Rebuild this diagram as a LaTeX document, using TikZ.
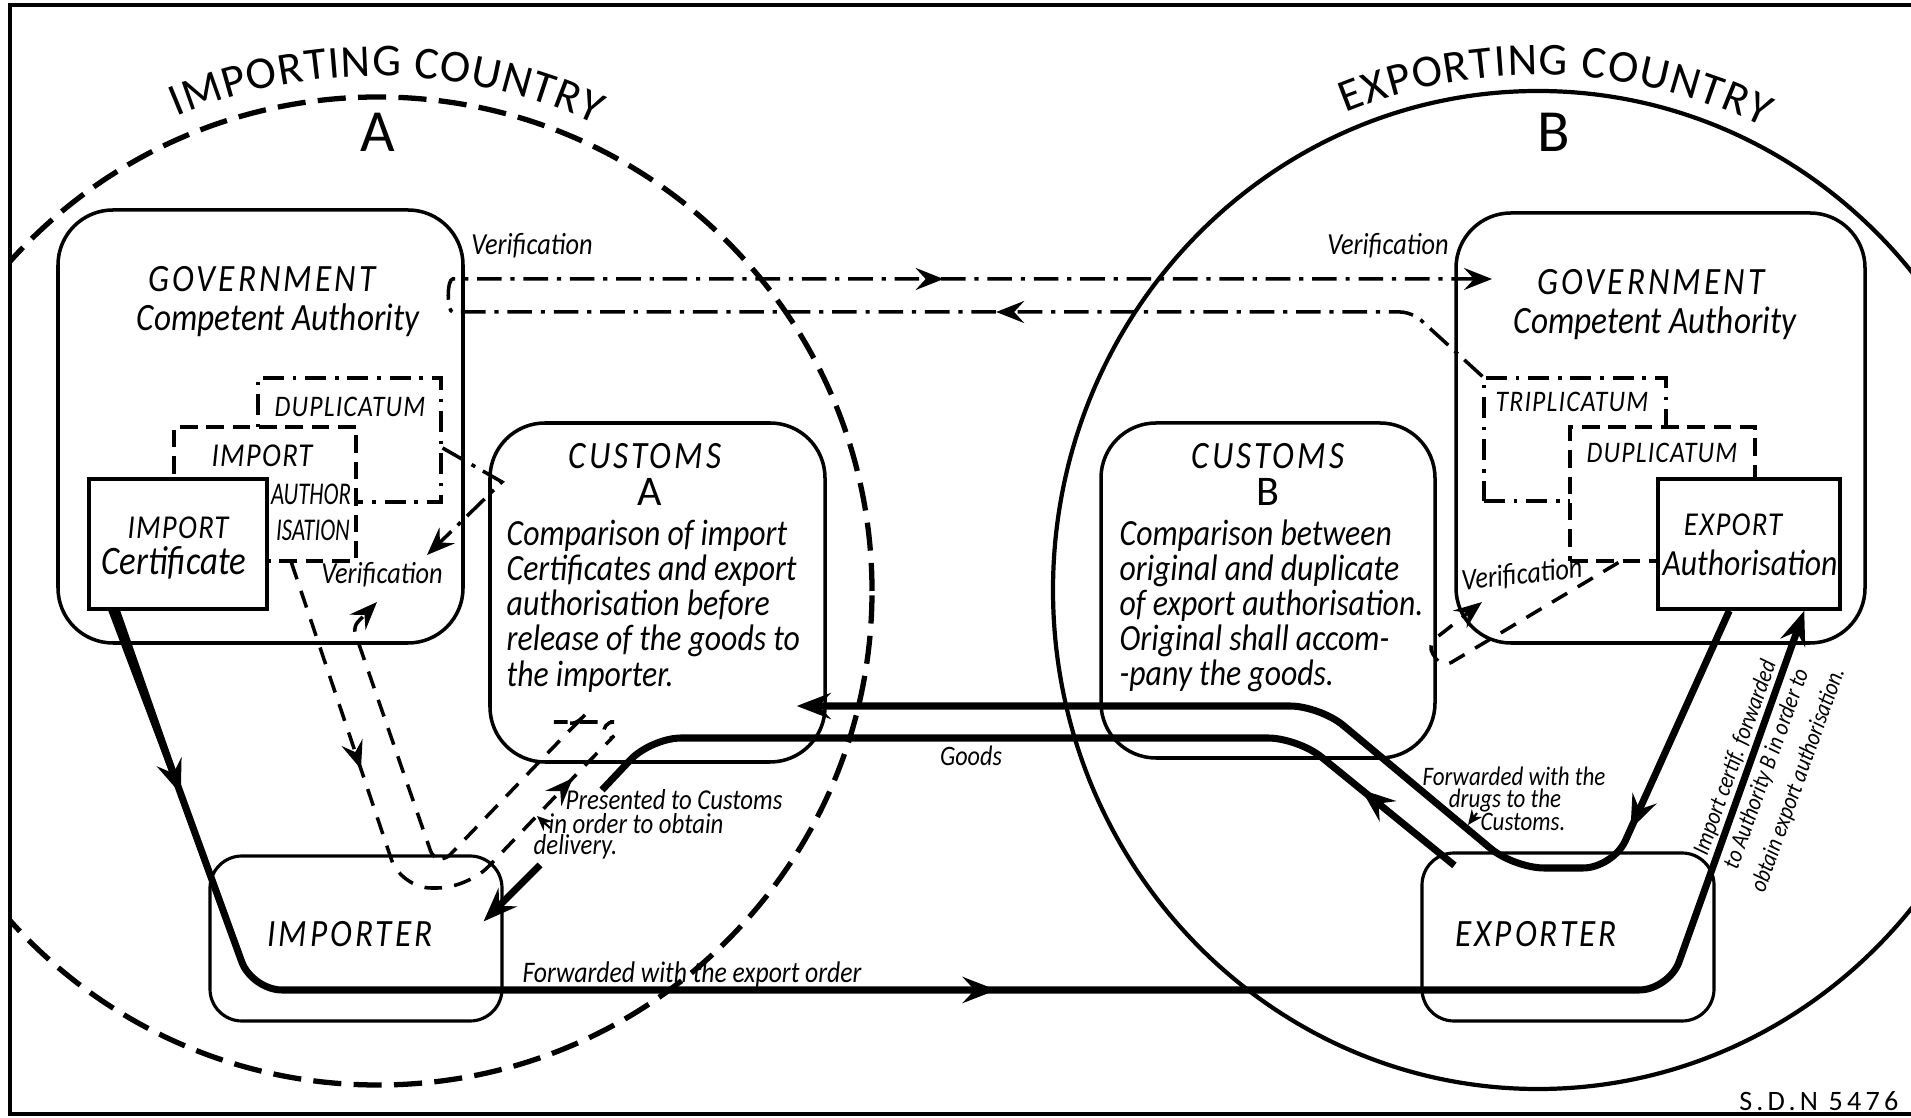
\documentclass[tikz,border=0pt]{standalone}
\usepackage{fontspec}
\setmainfont{Carlito}[FakeStretch=0.86]
\newfontfamily\capfont{Carlito}[FakeStretch=0.86, LetterSpace=8]
\newfontfamily\docfont{Carlito}[FakeStretch=0.86, LetterSpace=4]
\newfontfamily\titlefont{Carlito}
\usetikzlibrary{arrows.meta, positioning, calc, decorations.text, decorations.markings}

\begin{document}
\begin{tikzpicture}[
    >={Stealth[length=3.4mm, width=2.6mm, inset=1.2mm]},
    every node/.style={inner sep=0pt, font=\itshape},
    region/.style={draw, line width=1pt, rounded corners=0.55cm},
    party/.style={draw, line width=0.9pt, rounded corners=0.32cm},
    doc/.style={draw, line width=1pt, fill=white},
    dupdoc/.style={draw, line width=0.9pt, dash pattern=on 5pt off 2.5pt, fill=white},
    tripdoc/.style={draw, line width=0.9pt, dash pattern=on 6pt off 2.5pt on 1pt off 2.5pt, fill=white},
    flow/.style={line width=2pt, rounded corners=0.3cm},
    verif/.style={line width=1pt, dash pattern=on 7pt off 2.5pt on 1.2pt off 2.5pt,
                  >={Stealth[length=2.8mm, width=2.2mm, inset=1mm]}},
    tracepath/.style={line width=1pt, dash pattern=on 5pt off 3.5pt,
                  >={Stealth[length=2.8mm, width=2.2mm, inset=1mm]}},
    midarrow/.style={postaction={decorate, decoration={markings,
        mark=at position #1 with {\arrow{>}}}}},
    capslbl/.style={font=\capfont\itshape\fontsize{11}{11}\selectfont},
    doccap/.style={font=\docfont\itshape\fontsize{#1}{#1}\selectfont},
    doccap/.default=8.5,
    narrowcap/.style={font=\itshape\fontsize{9}{9}\selectfont\addfontfeatures{FakeStretch=0.72}},
    hand/.style={font=\itshape\fontsize{#1}{#1}\selectfont},
    note/.style={font=\itshape\fontsize{#1}{#1}\selectfont},
    note/.default=8.2,
    para/.style={font=\itshape\fontsize{10.5}{10}\selectfont, align=left},
    country/.style={font=\titlefont\fontsize{#1}{#1}\selectfont},
  ]
  \useasboundingbox (0,0) rectangle (19.11,11.17);

  % --- the two countries ---
  \coordinate (cA) at (3.78,5.26);
  \coordinate (cB) at (15.38,5.27);
  \begin{scope}
    \clip (0.10,0.03) rectangle (19.11,11.12);
    \draw[line width=1.5pt, dash pattern=on 8pt off 3.5pt] (cA) circle[radius=4.94];
    \draw[line width=1.2pt] (cB) ellipse[x radius=4.85, y radius=4.99];
  \end{scope}
  \draw[line width=1.3pt] (19.3,11.12) -- (0.10,11.12) -- (0.10,0.03) -- (19.3,0.03);

  \path[decorate, decoration={text along path, text align={fit to path},
      text={|\titlefont\fontsize{13}{13}\selectfont|IMPORTING COUNTRY}}]
    ($(cA)+(113:5.15)$) arc[start angle=113, end angle=65, radius=5.15];
  \path[decorate, decoration={text along path, text align={fit to path},
      text={|\titlefont\fontsize{13}{13}\selectfont|EXPORTING COUNTRY}}]
    ($(cB)+(112:5.15)$) arc[start angle=112, end angle=64, radius=5.15];
  \node[country=17] (nameA) at (3.78,9.85) {A};
  \node[country=17] (nameB) at (15.54,9.85) {B};

  % --- authorities, customs, traders ---
  \node[region, minimum width=4.05cm, minimum height=4.33cm] (govA) at (2.605,6.905) {};
  \node[region, minimum width=4.09cm, minimum height=4.30cm] (govB) at (16.605,6.89) {};
  \node[region, minimum width=3.35cm, minimum height=3.39cm] (cusA) at (6.575,5.245) {};
  \node[region, minimum width=3.34cm, minimum height=3.35cm] (cusB) at (12.68,5.265) {};
  \node[party, minimum width=2.92cm, minimum height=1.65cm] (imp) at (3.56,1.785) {};
  \node[party, minimum width=2.92cm, minimum height=1.68cm] (exp) at (15.68,1.80) {};

  \node[capslbl] (govAt) at (2.62,8.38) {GOVERNMENT};
  \node[hand=11] (govAn) at (2.78,7.97) {Competent Authority};
  \node[capslbl] (govBt) at (16.51,8.35) {GOVERNMENT};
  \node[hand=11] (govBn) at (16.55,7.94) {Competent Authority};

  % --- papers ---
  \node[tripdoc, minimum width=1.83cm, minimum height=1.24cm] (dupA) at (3.495,6.77) {};
  \node[dupdoc, minimum width=1.82cm, minimum height=1.34cm] (authA) at (2.65,6.23) {};
  \node[doc, minimum width=1.78cm, minimum height=1.30cm] (cert) at (1.78,5.73) {};
  \node[tripdoc, minimum width=1.82cm, minimum height=1.23cm] (trip) at (15.75,6.775) {};
  \node[dupdoc, minimum width=1.85cm, minimum height=1.34cm] (dupB) at (16.625,6.23) {};
  \node[doc, minimum width=1.82cm, minimum height=1.30cm] (expauth) at (17.49,5.73) {};

  \node[doccap] at (3.50,7.10) {DUPLICATUM};
  \node[doccap=9.5] at (2.62,6.61) {IMPORT};
  \node[narrowcap] at (3.11,6.23) {AUTHOR};
  \node[narrowcap] at (3.13,5.87) {ISATION};
  \node[doccap=9.5] at (1.78,5.89) {IMPORT};
  \node[hand=11.5] at (1.74,5.54) {Certificate};
  \node[doccap] at (15.72,7.15) {TRIPLICATUM};
  \node[doccap] at (16.62,6.64) {DUPLICATUM};
  \node[doccap=9.5] at (17.33,5.92) {EXPORT};
  \node[hand=10.5] at (17.50,5.54) {Authorisation};

  \node[capslbl] (cusAt) at (6.45,6.61) {CUSTOMS};
  \node[country=12] at (6.50,6.25) {A};
  \node[para, anchor=west] (cusAp) at (5.06,5.11) {Comparison of import\\Certificates and export\\authorisation before\\release of the goods to\\the importer.};
  \node[capslbl] (cusBt) at (12.68,6.61) {CUSTOMS};
  \node[country=12] at (12.68,6.25) {B};
  \node[para, anchor=west] (cusBp) at (11.19,5.11) {Comparison between\\original and duplicate\\of export authorisation.\\Original shall accom-\\-pany the goods.};

  \node[capslbl] at (3.50,1.83) {IMPORTER};
  \node[capslbl] at (15.36,1.83) {EXPORTER};

  % --- certificate and export order ---
  \coordinate (f0) at ($(cert.south west)+(0.27,0)$);
  \coordinate (f1) at (2.52,1.27);
  \coordinate (f2) at (16.69,1.27);
  \coordinate (f3) at ($(expauth.south west)+(1.48,0)$);
  \coordinate (ft) at ($(f0)!0.45!(f1)$);
  \fill ($(f0)+(-0.06,0)$) -- ($(f0)+(0.06,0)$) -- ($(ft)+(0.035,0)$) -- ($(ft)+(-0.035,0)$) -- cycle;
  \draw[flow, ->, midarrow=1.95cm, midarrow=11.4cm] (f0) -- (f1) -- (f2) -- (f3);

  % --- goods ---
  \coordinate (u0) at ($(expauth.south west)+(0.73,0)$);
  \coordinate (u1) at (16.13,2.49);
  \coordinate (u2) at (15.14,2.49);
  \coordinate (u3) at (13.20,4.11);
  \coordinate (u4) at ($(cusA.east |- u3)+(-0.30,0)$);
  \draw[flow, ->, midarrow=2.4cm] (u0) -- (u1) -- (u2) -- (u3) -- (u4);
  \coordinate (l0) at ($(exp.north west)+(0.34,-0.14)$);
  \coordinate (l1) at (12.98,3.79);
  \coordinate (l2) at (6.51,3.79);
  \coordinate (l3) at (6.02,3.27);
  \coordinate (l4) at (5.40,2.52);
  \coordinate (l5) at ($(imp.north east)+(-0.20,-0.67)$);
  \draw[flow, midarrow=1.2cm] (l0) -- (l1) -- (l2) -- (l3);
  \draw[flow, ->] (l4) -- (l5);

  % --- verification between authorities ---
  \coordinate (v1) at (14.12,8.05);
  \coordinate (v2) at (govA.east |- v1);
  \coordinate (v3) at ($(v2)+(0,0.33)$);
  \coordinate (v4) at (14.92,8.38);
  \draw[verif, ->, rounded corners=0.12cm, midarrow=5.1cm, midarrow=15.8cm]
    (trip.north west) -- (v1) -- (v2) to[out=180, in=180, looseness=1.4] (v3) -- (v4);
  \coordinate (d1) at (5.02,6.35);
  \coordinate (d2) at (4.27,5.62);
  \draw[verif, ->] ($(dupA.east)+(0,-0.08)$) -- (d1) -- (d2);

  % --- import authorisation to customs and back ---
  \coordinate (a1) at (4.01,2.29);
  \coordinate (a2) at (4.68,2.29);
  \coordinate (a3) at (5.93,3.60);
  \coordinate (a4) at (5.84,3.95);
  \coordinate (a5) at (5.66,3.83);
  \coordinate (a6) at (4.45,2.57);
  \coordinate (a7) at (4.33,2.59);
  \coordinate (a8) at (3.53,4.90);
  \coordinate (a9) at (3.77,5.15);
  \draw[tracepath, ->, midarrow=2.18cm, midarrow=5.5cm]
    ($(authA.south west)+(1.19,0)$) [rounded corners=0.3cm] -- (a1) -- (a2) -- (a3)
    to[out=45, in=0] (a4) to[out=180, in=45] (a5) [rounded corners=2pt] -- (a6) -- (a7) -- (a8) -- (a9);
  \coordinate (b1) at (14.42,4.49);
  \coordinate (b2) at (14.27,4.72);
  \coordinate (b3) at (14.82,5.15);
  \draw[tracepath, ->, rounded corners=3pt] ($(dupB.south west)+(0.50,0)$) -- (b1) -- (b2) -- (b3);

  % --- labels ---
  \node[note=8.7] (verA) at (5.32,8.71) {Verification};
  \node[note=8.7] (verB) at (13.88,8.71) {Verification};
  \node[note=8.7] (verA2) at (3.82,5.42) {Verification};
  \node[note=8.7, rotate=6] (verB2) at (15.22,5.42) {Verification};
  \node[note=8.5] (fwd) at (6.92,1.42) {Forwarded with the export order};
  \node[note=8] (goods) at (9.71,3.61) {Goods};
  \node[note, anchor=west] (pres1) at (5.65,3.17) {Presented to Customs};
  \node[note, anchor=west] (pres2) at (5.48,2.93) {in order to obtain};
  \node[note, anchor=west] (pres3) at (5.33,2.70) {delivery.};
  \node[note=7.6] (drug1) at (15.14,3.41) {Forwarded with the};
  \node[note=7.6] (drug2) at (15.05,3.16) {drugs to the};
  \node[note=7.6] (drug3) at (15.23,2.95) {Customs.};
  \draw[line width=0.6pt, -{Stealth[length=1.5mm, width=1.3mm]}] ($(pres2.west)+(0.02,-0.04)$) -- ++(-0.13,0.12);
  \draw[line width=0.6pt, -{Stealth[length=1.5mm, width=1.3mm]}] ($(drug3.west)+(-0.03,0.09)$) -- ++(-0.09,-0.12);
  \node[rotate=70.2, align=center, font=\itshape\fontsize{6.9}{9.5}\selectfont] (certlbl) at (17.67,3.48)
    {Import certif. forwarded\\to Authority B in order to\\obtain export authorisation.};
  \node[anchor=east, font=\titlefont\fontsize{8}{8}\selectfont\addfontfeatures{LetterSpace=15}] (sdn) at (18.99,0.16) {S.D.N 5476};
\end{tikzpicture}
\end{document}
